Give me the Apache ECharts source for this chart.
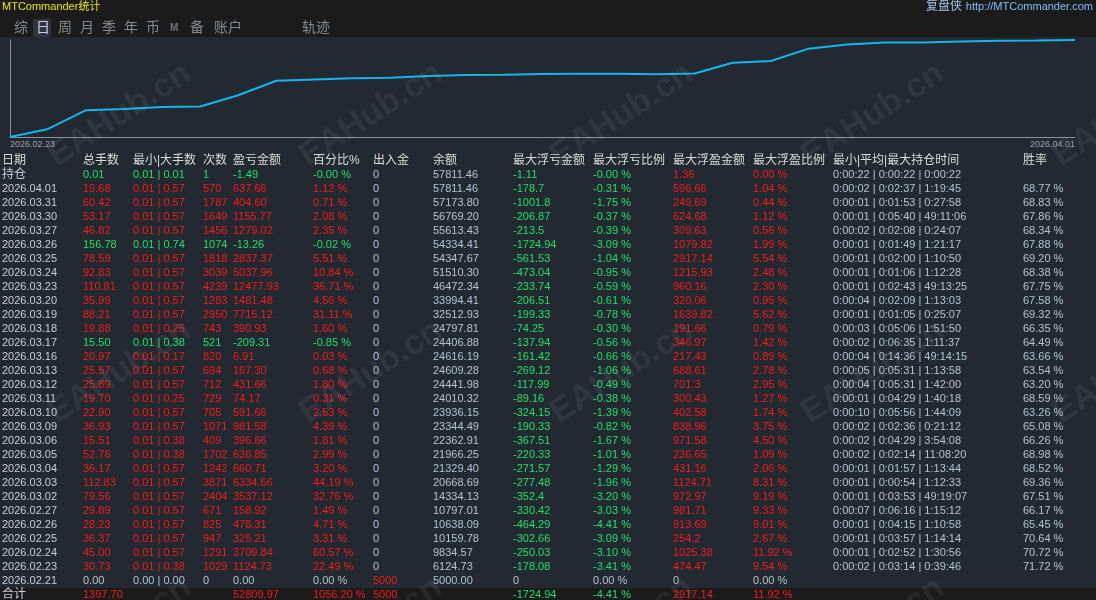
<!DOCTYPE html>
<html>
<head>
<meta charset="utf-8">
<script src="https://cdn.jsdelivr.net/npm/echarts@6/dist/echarts.min.js"></script>
<style>
html,body{margin:0;padding:0;background:#232931;}
#c{width:1096px;height:600px;}
</style>
</head>
<body>
<div id="c"></div>
<script>
// ---------------- DATA ----------------
const dates = ['2026.04.01','2026.03.31','2026.03.30','2026.03.27','2026.03.26','2026.03.25','2026.03.24','2026.03.23','2026.03.20','2026.03.19','2026.03.18','2026.03.17','2026.03.16','2026.03.13','2026.03.12','2026.03.11','2026.03.10','2026.03.09','2026.03.06','2026.03.05','2026.03.04','2026.03.03','2026.03.02','2026.02.27','2026.02.26','2026.02.25','2026.02.24','2026.02.23','2026.02.21'];
const lots = [19.68,60.42,53.17,46.82,156.78,78.59,92.83,110.81,35.99,88.21,19.88,15.50,20.97,25.57,25.89,19.70,22.90,36.93,15.51,52.76,36.17,112.83,79.56,29.89,28.23,36.37,45.00,30.73,0.00];
const minLots = [0.01,0.01,0.01,0.01,0.01,0.01,0.01,0.01,0.01,0.01,0.01,0.01,0.01,0.01,0.01,0.01,0.01,0.01,0.01,0.01,0.01,0.01,0.01,0.01,0.01,0.01,0.01,0.01,0.00];
const maxLots = [0.57,0.57,0.57,0.57,0.74,0.57,0.57,0.57,0.57,0.57,0.25,0.38,0.17,0.57,0.57,0.25,0.57,0.57,0.38,0.38,0.57,0.57,0.57,0.57,0.57,0.57,0.57,0.38,0.00];
const trades = [570,1787,1649,1456,1074,1818,3039,4239,1283,2950,743,521,820,694,712,729,705,1071,409,1702,1242,3871,2404,671,825,947,1291,1029,0];
const profit = [637.66,404.60,1155.77,1279.02,-13.26,2837.37,5037.96,12477.93,1481.48,7715.12,390.93,-209.31,6.91,167.30,431.66,74.17,591.66,981.58,396.66,636.85,660.71,6334.56,3537.12,158.92,478.31,325.21,3709.84,1124.73,0.00];
const profitPct = [1.12,0.71,2.08,2.35,-0.02,5.51,10.84,36.71,4.56,31.11,1.60,-0.85,0.03,0.68,1.80,0.31,2.53,4.39,1.81,2.99,3.20,44.19,32.76,1.49,4.71,3.31,60.57,22.49,0.00];
const deposit = [0,0,0,0,0,0,0,0,0,0,0,0,0,0,0,0,0,0,0,0,0,0,0,0,0,0,0,0,5000];
const balance = [57811.46,57173.80,56769.20,55613.43,54334.41,54347.67,51510.30,46472.34,33994.41,32512.93,24797.81,24406.88,24616.19,24609.28,24441.98,24010.32,23936.15,23344.49,22362.91,21966.25,21329.40,20668.69,14334.13,10797.01,10638.09,10159.78,9834.57,6124.73,5000.00];
const floatLoss = [-178.7,-1001.8,-206.87,-213.5,-1724.94,-561.53,-473.04,-233.74,-206.51,-199.33,-74.25,-137.94,-161.42,-269.12,-117.99,-89.16,-324.15,-190.33,-367.51,-220.33,-271.57,-277.48,-352.4,-330.42,-464.29,-302.66,-250.03,-178.08,0];
const floatLossPct = [-0.31,-1.75,-0.37,-0.39,-3.09,-1.04,-0.95,-0.59,-0.61,-0.78,-0.30,-0.56,-0.66,-1.06,-0.49,-0.38,-1.39,-0.82,-1.67,-1.01,-1.29,-1.96,-3.20,-3.03,-4.41,-3.09,-3.10,-3.41,0.00];
const floatProfit = [596.66,249.69,624.68,309.63,1079.82,2917.14,1215.93,960.16,320.06,1639.82,191.66,346.97,217.43,688.61,701.3,300.43,402.58,838.96,971.58,236.65,431.16,1124.71,972.97,981.71,913.69,254.2,1025.38,474.47,0];
const floatProfitPct = [1.04,0.44,1.12,0.56,1.99,5.54,2.48,2.30,0.95,5.62,0.79,1.42,0.89,2.78,2.95,1.27,1.74,3.75,4.50,1.09,2.06,8.31,9.19,9.33,9.01,2.67,11.92,9.54,0.00];
const holdTimes = ['0:00:02 | 0:02:37 | 1:19:45','0:00:01 | 0:01:53 | 0:27:58','0:00:01 | 0:05:40 | 49:11:06','0:00:02 | 0:02:08 | 0:24:07','0:00:01 | 0:01:49 | 1:21:17','0:00:01 | 0:02:00 | 1:10:50','0:00:01 | 0:01:06 | 1:12:28','0:00:01 | 0:02:43 | 49:13:25','0:00:04 | 0:02:09 | 1:13:03','0:00:01 | 0:01:05 | 0:25:07','0:00:03 | 0:05:06 | 1:51:50','0:00:02 | 0:06:35 | 1:11:37','0:00:04 | 0:14:36 | 49:14:15','0:00:05 | 0:05:31 | 1:13:58','0:00:04 | 0:05:31 | 1:42:00','0:00:01 | 0:04:29 | 1:40:18','0:00:10 | 0:05:56 | 1:44:09','0:00:02 | 0:02:36 | 0:21:12','0:00:02 | 0:04:29 | 3:54:08','0:00:02 | 0:02:14 | 11:08:20','0:00:01 | 0:01:57 | 1:13:44','0:00:01 | 0:00:54 | 1:12:33','0:00:01 | 0:03:53 | 49:19:07','0:00:07 | 0:06:16 | 1:15:12','0:00:01 | 0:04:15 | 1:10:58','0:00:01 | 0:03:57 | 1:14:14','0:00:01 | 0:02:52 | 1:30:56','0:00:02 | 0:03:14 | 0:39:46',''];
const winRate = [68.77,68.83,67.86,68.34,67.88,69.20,68.38,67.75,67.58,69.32,66.35,64.49,63.66,63.54,63.20,68.59,63.26,65.08,66.26,68.98,68.52,69.36,67.51,66.17,65.45,70.64,70.72,71.72,null];

const headers = ['日期','总手数','最小|大手数','次数','盈亏金额','百分比%','出入金','余额','最大浮亏金额','最大浮亏比例','最大浮盈金额','最大浮盈比例','最小|平均|最大持仓时间','胜率'];
const holdingLabel = '持仓';
const holdingCells = ['0.01','0.01 | 0.01','1','-1.49','-0.00 %','0','57811.46','-1.11','-0.00 %','1.36','0.00 %','0:00:22 | 0:00:22 | 0:00:22',''];
const holdingSigns = [-1.49, -1.11, 1.36];   // profit, float loss, float profit
const totalLabel = '合计';
const totalCells = ['1397.70','','','52809.97','1056.20 %','5000','','-1724.94','-4.41 %','2917.14','11.92 %','',''];
const totalSigns = [52809.97, -1724.94, 2917.14];
const tabLabels = ['综','日','周','月','季','年','币','M','备','账户','轨迹'];
const titleText = 'MTCommander统计';
const brandText = '复盘侠';
const urlText = 'http://MTCommander.com';
const watermarkText = 'EAHub.cn';

// ---------------- STYLE / LAYOUT ----------------
const FONT = '"Liberation Sans", "Noto Sans CJK SC", sans-serif';
const RED = '#f21a1a', GREEN = '#1fe06a', GREY = '#b6c2d2', DATEC = '#c9cdd5', HEAD = '#d9dbde';
const colX = [2,83,133,203,233,313,373,433,513,593,673,753,833,1023];
const colKind = ['date','sign','sign','sign','sign','sign','dep','plain','loss','loss','gain','gain','plain','plain'];
const rowY0 = 161, rowH = 14;
const tabX = [14,36,58,80,102,124,146,170,190,214,302];

const fmt2 = v => v.toFixed(2);
function cellColor(kind, text, signs) {
  const [p, l, g] = signs;
  if (kind === 'sign') return p > 0 ? RED : (p < 0 ? GREEN : GREY);
  if (kind === 'dep') return parseFloat(text) > 0 ? RED : GREY;
  if (kind === 'loss') return l < 0 ? GREEN : GREY;
  if (kind === 'gain') return g > 0 ? RED : GREY;
  if (kind === 'date') return DATEC;
  return GREY;
}

// build table rows
const tableRows = [];
tableRows.push(headers.map(h => ({ t: h, c: HEAD, s: 12 })));
tableRows.push([{ t: holdingLabel, c: DATEC, s: 12 }].concat(holdingCells.map((t, k) => ({ t, c: cellColor(colKind[k + 1], t, holdingSigns), s: 11 }))));
for (let i = 0; i < dates.length; i++) {
  const cells = [
    dates[i], fmt2(lots[i]), fmt2(minLots[i]) + ' | ' + fmt2(maxLots[i]), String(trades[i]),
    fmt2(profit[i]), fmt2(profitPct[i]) + ' %', String(deposit[i]), fmt2(balance[i]),
    String(floatLoss[i]), fmt2(floatLossPct[i]) + ' %', String(floatProfit[i]), fmt2(floatProfitPct[i]) + ' %',
    holdTimes[i], winRate[i] == null ? '' : fmt2(winRate[i]) + ' %'
  ];
  const signs = [profit[i], floatLoss[i], floatProfit[i]];
  tableRows.push(cells.map((t, k) => ({ t, c: cellColor(colKind[k], t, signs), s: 11 })));
}
tableRows.push([{ t: totalLabel, c: DATEC, s: 12 }].concat(totalCells.map((t, k) => ({ t, c: cellColor(colKind[k + 1], t, totalSigns), s: 11 }))));

const graphics = [];
// top bar
graphics.push({ type: 'rect', z: 0, shape: { x: 0, y: 0, width: 1096, height: 37 }, style: { fill: '#1b1b1b' } });
// total row band
const totalY = rowY0 + rowH * (tableRows.length - 1);
graphics.push({ type: 'rect', z: 0, shape: { x: 0, y: totalY - 7, width: 1096, height: 20 }, style: { fill: '#1b1b1b' } });
// title & brand
graphics.push({ type: 'text', z: 5, x: 2, y: 7, style: { text: titleText, fill: '#e6e600', fontSize: 11, fontFamily: FONT, textVerticalAlign: 'middle', verticalAlign: 'middle' } });
graphics.push({ type: 'text', z: 5, x: 1093, y: 7, style: { text: urlText, fill: '#7fbdf5', fontSize: 11, fontFamily: FONT, textAlign: 'right', align: 'right', textVerticalAlign: 'middle', verticalAlign: 'middle' } });
graphics.push({ type: 'text', z: 5, x: 962, y: 7, style: { text: brandText, fill: '#a3c4ea', fontSize: 12, fontFamily: FONT, textAlign: 'right', align: 'right', textVerticalAlign: 'middle', verticalAlign: 'middle' } });
// tabs
graphics.push({ type: 'rect', z: 1, shape: { x: 33, y: 19, width: 18, height: 18, r: 2 }, style: { fill: '#2d3440' } });
tabLabels.forEach((t, k) => {
  const isM = t === 'M';
  graphics.push({ type: 'text', z: 5, x: tabX[k], y: 28, style: {
    text: t, fill: k === 1 ? '#c8d2de' : (isM ? '#6f757c' : '#858a90'),
    fontSize: isM ? 10 : 14, fontWeight: isM ? 'bold' : 'normal', fontFamily: FONT,
    textVerticalAlign: 'middle', verticalAlign: 'middle' } });
});
// table cells
tableRows.forEach((row, r) => {
  const y = rowY0 + rowH * r;
  row.forEach((cell, k) => {
    if (!cell.t) return;
    graphics.push({ type: 'text', z: 5, x: colX[k], y: y, style: {
      text: cell.t, fill: cell.c, fontSize: cell.s, fontFamily: FONT,
      textVerticalAlign: 'middle', verticalAlign: 'middle' } });
  });
});
// watermark
for (let j = 0; j < 3; j++) {
  for (let i = 0; i < 5; i++) {
    graphics.push({ type: 'text', z: 50, silent: true, x: 120 + 251 * i, y: 115 + 257 * j, rotation: 33 * Math.PI / 180, style: {
      text: watermarkText, fill: 'rgba(200,205,215,0.08)', fontSize: 34, fontWeight: 'bold', fontFamily: FONT,
      textAlign: 'center', align: 'center', textVerticalAlign: 'middle', verticalAlign: 'middle' } });
  }
}

// equity line (chronological balances)
const chrono = balance.slice().reverse();
const lineData = chrono.map((b, i) => [i, b]);
const N = chrono.length - 1;
const firstDate = dates[dates.length - 2];
const lastDate = dates[0];

const chart = echarts.init(document.getElementById('c'), null, { renderer: 'canvas' });
chart.setOption({
  backgroundColor: '#232931',
  animation: false,
  grid: { left: 10, right: 21, top: 40, bottom: 463, containLabel: false },
  xAxis: {
    type: 'value', min: 0, max: N, interval: N,
    axisLine: { show: true, onZero: false, lineStyle: { color: '#8c9198', width: 1 } },
    axisTick: { show: false }, splitLine: { show: false },
    axisLabel: { show: true, color: '#9aa1aa', fontSize: 9, fontFamily: FONT, margin: 3,
      alignMinLabel: 'left', alignMaxLabel: 'right',
      formatter: v => (v === 0 ? firstDate : lastDate) }
  },
  yAxis: {
    type: 'log', logBase: 10, min: Math.min.apply(null, chrono), max: Math.max.apply(null, chrono),
    axisLine: { show: true, lineStyle: { color: '#8c9198', width: 1 } },
    axisTick: { show: false }, splitLine: { show: false }, axisLabel: { show: false }
  },
  series: [{
    type: 'line', data: lineData, symbol: 'none', showSymbol: false, silent: true,
    lineStyle: { color: '#14b4f0', width: 2 }
  }],
  graphic: graphics
});
</script>
</body>
</html>
